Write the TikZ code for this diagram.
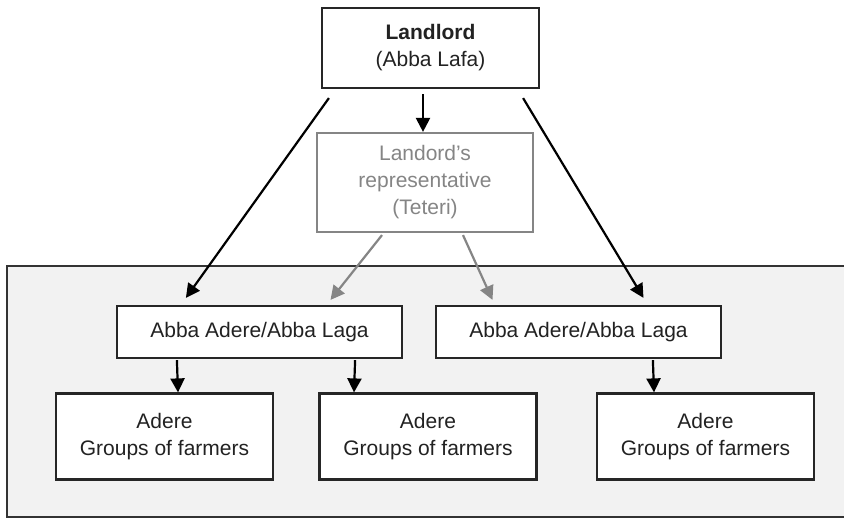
\documentclass[tikz,border=0pt]{standalone}
\usepackage{fontspec}
\setmainfont{Liberation Sans}
\usetikzlibrary{arrows.meta}
\definecolor{txt}{HTML}{222222}
\definecolor{repc}{HTML}{858585}
\definecolor{bgc}{HTML}{F2F2F2}
\tikzset{
  box/.style={draw=black!85, line width=2.2pt, fill=white, inner sep=0pt, align=center,
    text=txt, font=\fontsize{21}{27}\selectfont},
  repbox/.style={box, draw=repc, text=repc},
  arr/.style={line width=2.2pt, draw=black, -{Triangle[length=14pt,width=14pt]}},
  garr/.style={arr, draw=repc, -{Triangle[length=14pt,width=14pt,fill=repc]}}
}
\begin{document}
\begin{tikzpicture}[x=1pt,y=-1pt]
\useasboundingbox (0,0) rectangle (844,520);
\fill[white] (0,0) rectangle (844,520);
\draw[fill=bgc, draw=black!80, line width=1.5pt] (7,266) rectangle (852,517);
\node[box, minimum width=217pt, minimum height=80pt] (land) at (430.5,48)
  {\textbf{Landlord}\\(Abba Lafa)};
\node[repbox, minimum width=216pt, minimum height=99pt] (rep) at (425,182.5)
  {\raisebox{-4pt}{\parbox{200pt}{\centering Landord’s\\representative\\(Teteri)}}};
\node[box, minimum width=285pt, minimum height=52pt] (m1) at (259.5,332) {Abba Adere/Abba Laga};
\node[box, minimum width=285pt, minimum height=52pt] (m2) at (578.5,332) {Abba Adere/Abba Laga};
\node[box, minimum width=217pt, minimum height=86pt] (b1) at (164.5,436.5) {Adere\\Groups of farmers};
\node[box, minimum width=217pt, minimum height=86pt] (b2) at (428,436.5) {Adere\\Groups of farmers};
\node[box, minimum width=217pt, minimum height=86pt] (b3) at (705.5,436.5) {Adere\\Groups of farmers};
% arrows
\draw[arr] ([xshift=-7.5pt,yshift=-5pt]land.south) -- ([xshift=-2pt]rep.north);
\draw[arr] ([xshift=8pt,yshift=-9pt]land.south west) -- ([xshift=70pt,yshift=7pt]m1.north west);
\draw[arr] ([xshift=-17pt,yshift=-9pt]land.south east) -- ([xshift=65pt,yshift=7pt]m2.north);
\draw[garr] ([xshift=-43pt,yshift=-2pt]rep.south) -- ([xshift=71pt,yshift=5pt]m1.north);
\draw[garr] ([xshift=38pt,yshift=-2pt]rep.south) -- ([xshift=-86pt,yshift=5pt]m2.north);
\draw[arr] ([xshift=61pt,yshift=-1pt]m1.south west) -- ([xshift=13.5pt]b1.north);
\draw[arr] ([xshift=-48pt,yshift=-1pt]m1.south east) -- ([xshift=-74pt]b2.north);
\draw[arr] ([xshift=218pt,yshift=-1pt]m2.south west) -- ([xshift=-51.5pt]b3.north);
\end{tikzpicture}
\end{document}
